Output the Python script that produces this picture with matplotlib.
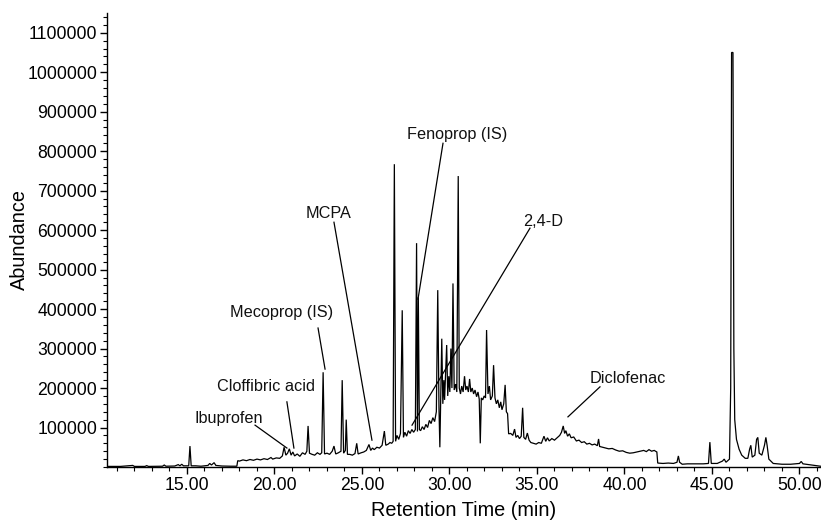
import matplotlib
matplotlib.use("Agg")
import matplotlib.pyplot as plt
from matplotlib.ticker import MultipleLocator, FixedLocator, FuncFormatter

# ---- chromatogram trace (retention time in min, abundance) ----
time_min = [
    10.5, 11.2, 11.9, 12.0, 12.6, 12.7, 12.8, 13.6, 13.7, 13.8,
    14.3, 14.5, 14.6, 14.7, 14.8, 15.1, 15.17, 15.24, 15.5, 15.8,
    16.2, 16.3, 16.4, 16.55, 16.65, 17.0, 17.5, 17.85,
    17.9, 18.0, 18.2, 18.4, 18.6, 18.8, 19.0, 19.2, 19.4, 19.6, 19.8, 19.9,
    20.1, 20.3, 20.45, 20.55, 20.65, 20.75, 20.85, 20.95, 21.05, 21.15,
    21.3, 21.45, 21.6, 21.75, 21.85, 21.92, 22.0, 22.15, 22.3, 22.45,
    22.6, 22.7, 22.78, 22.86, 23.0, 23.15, 23.3, 23.4, 23.5, 23.65,
    23.8, 23.87, 23.95, 24.05, 24.1, 24.17, 24.3, 24.45, 24.6, 24.7,
    24.78, 24.95, 25.1, 25.25, 25.4, 25.5, 25.6, 25.7, 25.85, 26.0,
    26.15, 26.28, 26.36, 26.5, 26.6, 26.7, 26.78, 26.85, 26.92, 27.0,
    27.1, 27.2, 27.3, 27.37, 27.45, 27.55, 27.65, 27.75, 27.85, 27.95,
    28.05, 28.12, 28.17, 28.22, 28.28, 28.35, 28.45, 28.55, 28.65, 28.75,
    28.85, 28.95, 29.05, 29.15, 29.25, 29.33, 29.4, 29.45, 29.5, 29.56,
    29.62, 29.68, 29.72, 29.78, 29.84, 29.9, 29.96, 30.02, 30.08, 30.14,
    30.2, 30.27, 30.35, 30.42, 30.5, 30.56, 30.63, 30.7, 30.78, 30.86,
    30.93, 31.0, 31.08, 31.15, 31.22, 31.3, 31.38, 31.46, 31.55, 31.63,
    31.7, 31.76, 31.82, 31.9, 31.98, 32.06, 32.12, 32.2, 32.28, 32.35,
    32.45, 32.52, 32.6, 32.68, 32.76, 32.85, 32.93, 33.0, 33.1, 33.18,
    33.25, 33.32, 33.38, 33.5, 33.62, 33.72, 33.8, 33.9, 34.0, 34.1,
    34.18, 34.25, 34.35, 34.45, 34.55, 34.65, 34.8, 34.95, 35.1, 35.25,
    35.4, 35.5, 35.6, 35.7, 35.85, 36.0, 36.15, 36.3, 36.4, 36.5,
    36.58, 36.65, 36.75, 36.85, 36.95, 37.1, 37.25, 37.4, 37.55, 37.7,
    37.85, 38.0, 38.15, 38.3, 38.45, 38.52, 38.58, 38.75, 38.9, 39.1,
    39.3, 39.5, 39.7, 39.9, 40.1, 40.3, 40.5, 40.7, 40.9, 41.1,
    41.25, 41.4, 41.55, 41.7, 41.85, 41.9, 42.2, 42.5, 42.8, 43.0,
    43.08, 43.15, 43.3, 43.6, 44.0, 44.5, 44.8, 44.88, 44.96, 45.3,
    45.6, 45.7, 45.8, 46.0, 46.07, 46.12, 46.2, 46.25, 46.3, 46.4,
    46.55, 46.7, 46.9, 47.05, 47.15, 47.22, 47.3, 47.45, 47.55, 47.62,
    47.7, 47.85, 48.0, 48.08, 48.15, 48.25, 48.5, 49.0, 49.5, 50.0,
    50.1, 50.2, 50.7, 51.2,
]
abundance = [
    1500, 1500, 4000, 1500, 1500, 3500, 1500, 2000, 5000, 2000,
    2500, 6000, 3000, 7000, 3000, 3000, 53000, 3000, 3000, 2000,
    4000, 9000, 5000, 11000, 4000, 2500, 2000, 2000,
    16000, 15000, 18000, 16000, 19000, 17000, 20000, 18000, 21000, 19000, 24000, 20000,
    23000, 22000, 28000, 50000, 30000, 35000, 46000, 30000, 38000, 28000,
    33000, 27000, 36000, 32000, 40000, 104000, 35000, 32000, 30000, 36000,
    32000, 36000, 240000, 33000, 35000, 32000, 40000, 53000, 33000, 36000,
    40000, 220000, 35000, 42000, 120000, 32000, 32000, 30000, 34000, 60000,
    33000, 36000, 38000, 42000, 57000, 42000, 48000, 44000, 50000, 48000,
    55000, 91000, 55000, 58000, 62000, 60000, 65000, 767000, 65000, 80000,
    70000, 85000, 397000, 75000, 88000, 78000, 92000, 85000, 95000, 88000,
    95000, 567000, 90000, 430000, 95000, 92000, 102000, 95000, 108000, 100000,
    118000, 110000, 125000, 115000, 140000, 448000, 150000, 50000, 180000, 325000,
    160000, 220000, 170000, 240000, 309000, 180000, 230000, 190000, 300000, 200000,
    465000, 195000, 210000, 190000, 737000, 200000, 185000, 205000, 190000, 230000,
    195000, 205000, 190000, 223000, 190000, 200000, 185000, 195000, 178000, 190000,
    172000, 60000, 175000, 170000, 180000, 175000, 347000, 185000, 205000, 170000,
    180000, 258000, 175000, 160000, 170000, 150000, 165000, 145000, 160000, 208000,
    140000, 135000, 84000, 85000, 80000, 96000, 75000, 80000, 72000, 78000,
    150000, 75000, 70000, 86000, 68000, 62000, 60000, 58000, 62000, 60000,
    78000, 65000, 74000, 66000, 72000, 68000, 74000, 80000, 88000, 104000,
    85000, 92000, 78000, 84000, 74000, 76000, 66000, 68000, 62000, 64000,
    58000, 60000, 56000, 58000, 54000, 71000, 52000, 50000, 48000, 46000,
    47000, 43000, 40000, 41000, 37000, 35000, 36000, 38000, 40000, 42000,
    39000, 44000, 40000, 42000, 38000, 10000, 9000, 10000, 9000, 12000,
    28000, 12000, 7000, 8000, 8000, 8000, 9000, 63000, 9000, 9000,
    15000, 20000, 12000, 20000, 200000, 1050000, 1050000, 300000, 120000, 70000,
    45000, 30000, 22000, 22000, 45000, 55000, 25000, 30000, 70000, 75000,
    35000, 30000, 55000, 75000, 55000, 20000, 9000, 7000, 7000, 9000,
    14000, 8000, 5000, 2000,
]

# ---- compound labels ----
labels = ["Ibuprofen", "Cloffibric acid", "Mecoprop (IS)", "MCPA",
          "Fenoprop (IS)", "2,4-D", "Diclofenac"]

# text anchor (min, abundance) and leader line start/end
label_text_pos = [(17.4, 124000), (19.5, 205000), (20.4, 392000), (23.1, 643000),
                  (30.45, 843000), (35.35, 623000), (40.2, 225000)]
leader_start = [(18.89, 106000), (20.71, 165000), (22.49, 352000), (23.4, 620000),
                (29.63, 820000), (34.6, 605000), (38.6, 203000)]
leader_end = [(20.71, 48000), (21.11, 48000), (22.89, 248000), (25.57, 68000),
              (28.2, 425000), (27.86, 106000), (36.77, 127000)]

x_major = [15, 20, 25, 30, 35, 40, 45, 50]
y_major = [100000 * k for k in range(1, 12)]

plt.rcParams['font.family'] = ['Liberation Sans', 'DejaVu Sans']

fig = plt.figure(figsize=(8.21, 5.20), dpi=100)
ax = fig.add_axes([107 / 821, 1 - 467 / 520, 1 - 107 / 821, (467 - 13) / 520])

ax.plot(time_min, abundance, color='black', lw=0.9, solid_joinstyle='miter')

for lab, tp, s, e in zip(labels, label_text_pos, leader_start, leader_end):
    ax.text(tp[0], tp[1], lab, ha='center', va='center', fontsize=11.7, color='#111111')
    ax.plot([s[0], e[0]], [s[1], e[1]], color='black', lw=0.9)

ax.set_xlim(10.43, 51.23)
ax.set_ylim(0, 1150000)

ax.xaxis.set_major_locator(FixedLocator(x_major))
ax.xaxis.set_minor_locator(MultipleLocator(1))
ax.xaxis.set_major_formatter(FuncFormatter(lambda v, p: f"{v:.2f}"))
ax.yaxis.set_major_locator(FixedLocator(y_major))
ax.yaxis.set_minor_locator(MultipleLocator(20000))
ax.yaxis.set_major_formatter(FuncFormatter(lambda v, p: f"{int(round(v))}"))

for side in ['top', 'right']:
    ax.spines[side].set_visible(False)
for side in ['left', 'bottom']:
    ax.spines[side].set_linewidth(1.0)

ax.tick_params(axis='both', which='major', direction='out', length=5, width=1.0,
               labelsize=12.7, pad=2)
ax.tick_params(axis='both', which='minor', direction='out', length=3, width=0.8)

ax.set_xlabel("Retention Time (min)", fontsize=14.3, labelpad=5)
ax.set_ylabel("Abundance", fontsize=14.3, labelpad=-1)

fig.savefig("out.png", dpi=100)
